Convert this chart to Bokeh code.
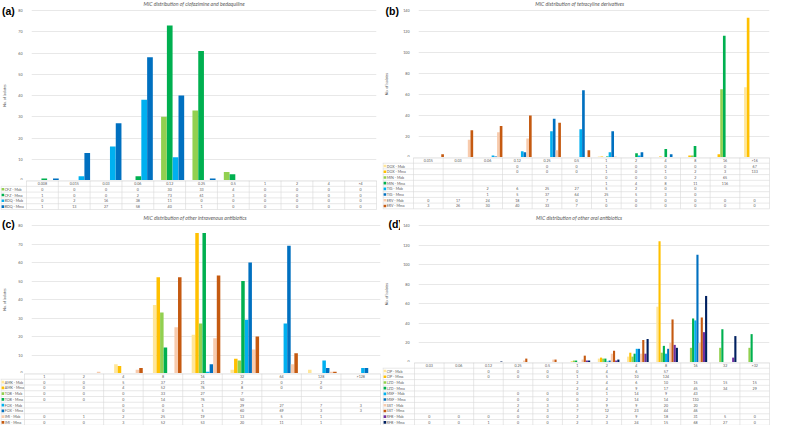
import math
from bokeh.plotting import figure
from bokeh.models import Range1d, FixedTicker, ColumnDataSource
from bokeh.layouts import row, column
from bokeh.embed import file_html
from bokeh.resources import INLINE
from bokeh.core.properties import value

FONT = "Lato"

# ---------------- Panel (a) ----------------
cats_a = ["0.008", "0.015", "0.03", "0.06", "0.12", "0.25", "0.5", "1", "2", "4", ">4"]
names_a = ["CFZ - Mab", "CFZ - Mma", "BDQ - Mab", "BDQ - Mma"]
cfz_mab = [0, 0, 0, 0, 30, 33, 4, 0, 0, 0, 0]
cfz_mma = [1, 0, 0, 2, 73, 61, 3, 0, 0, 0, 0]
bdq_mab = [0, 2, 16, 38, 11, 0, 0, 0, 0, 0, 0]
bdq_mma = [1, 13, 27, 58, 40, 1, 0, 0, 0, 0, 0]

# ---------------- Panel (b) ----------------
cats_b = ["0.015", "0.03", "0.06", "0.12", "0.25", "0.5", "1", "2", "4", "8", "16", ">16"]
names_b = ["DOX - Mab", "DOX - Mma", "MIN - Mab", "MIN - Mma",
           "TIG - Mab", "TIG - Mma", "ERV - Mab", "ERV - Mma"]
dox_mab = [None, None, None, 0, 0, 0, 1, 0, 0, 0, 0, 67]
dox_mma = [None, None, None, 0, 0, 0, 1, 0, 1, 2, 3, 133]
min_mab = [None, None, None, None, None, None, 0, 0, 0, 2, 65, None]
min_mma = [None, None, None, None, None, None, 1, 4, 8, 11, 116, None]
tig_mab = [None, None, 2, 6, 25, 27, 5, 2, 0, 0, None, None]
tig_mma = [None, None, 1, 5, 37, 64, 25, 5, 3, 0, None, None]
erv_mab = [0, 17, 24, 18, 7, 0, 1, 0, 0, 0, 0, 0]
erv_mma = [3, 26, 30, 40, 33, 7, 0, 0, 0, 0, 0, 0]

# ---------------- Panel (c) ----------------
cats_c = ["1", "2", "4", "8", "16", "32", "64", "128", ">128"]
names_c = ["AMK - Mab", "AMK - Mma", "TOB - Mab", "TOB - Mma",
           "FOX - Mab", "FOX - Mma", "IMI - Mab", "IMI - Mma"]
amk_mab = [0, 0, 5, 37, 21, 2, 0, 2, None]
amk_mma = [0, 0, 4, 52, 76, 8, 0, 0, None]
tob_mab = [0, 0, 0, 33, 27, 7, None, None, None]
tob_mma = [0, 0, 0, 14, 76, 50, None, None, None]
fox_mab = [None, None, 0, 0, 1, 29, 27, 7, 3]
fox_mma = [None, None, 0, 0, 5, 60, 69, 3, 3]
imi_mab = [0, 1, 2, 25, 19, 13, 5, 1, None]
imi_mma = [0, 0, 3, 52, 53, 20, 11, 1, None]

# ---------------- Panel (d) ----------------
cats_d = ["0.03", "0.06", "0.12", "0.25", "0.5", "1", "2", "4", "8", "16", "32", ">32"]
names_d = ["CIP - Mab", "CIP - Mma", "LZD - Mab", "LZD - Mma", "MXF - Mab",
           "MXF - Mma", "SXT - Mab", "SXT - Mma", "RFB - Mab", "RFB - Mma"]
cip_mab = [None, None, 0, 0, 0, 0, 4, 6, 57, None, None, None]
cip_mma = [None, None, 0, 0, 0, 1, 5, 10, 124, None, None, None]
lzd_mab = [None, None, None, None, None, 2, 4, 6, 10, 15, 15, 15]
lzd_mma = [None, None, None, None, None, 2, 4, 9, 17, 45, 34, 29]
mxf_mab = [None, None, None, 0, 0, 0, 1, 14, 9, 43, None, None]
mxf_mma = [None, None, None, 0, 0, 0, 2, 14, 14, 110, None, None]
sxt_mab = [None, None, None, 2, 3, 3, 9, 9, 20, 20, None, None]
sxt_mma = [None, None, None, 4, 3, 7, 12, 23, 44, 46, None, None]
rfb_mab = [0, 0, 0, 0, 0, 2, 2, 9, 18, 31, 5, 0]
rfb_mma = [0, 0, 1, 0, 0, 2, 3, 24, 15, 68, 27, 0]

LY, YE = "#FFE699", "#FFC000"
LG, GR = "#92D050", "#00B050"
LB, BL = "#00B0F0", "#0070C0"
LO, OR = "#F8CBAD", "#C55A11"
PU, NV = "#7030A0", "#002060"

TXT = "#595959"
GRID = "#D9D9D9"
SMALL = "3.6px"


def make_panel(letter, title, cats, names, colors, series, ymax, ystep,
               pw, chart_h, table_h, fl, fr, ft, row_h,
               nw, letter_x, letter_y, title_y):
    n = len(cats)
    ns = len(series)
    cw = pw - nw

    # ---- narrow left strip: panel letter + y axis title ----
    s = figure(width=nw, height=chart_h, x_range=Range1d(0, nw),
               y_range=Range1d(chart_h, 0), output_backend="svg",
               toolbar_location=None, x_axis_location=None,
               y_axis_location=None, min_border=0, min_border_left=0,
               min_border_right=0, min_border_top=0, min_border_bottom=0)
    s.outline_line_color = None
    s.grid.visible = False
    s.text(x=[letter_x], y=[letter_y], text=[letter], text_align="left",
           text_baseline="middle", text_font_size="10.5px",
           text_font_style="bold", text_color="#000000",
           text_font=value("Liberation Sans"))
    s.text(x=[3.5], y=[(ft + chart_h) / 2], text=["No. of isolates"],
           angle=math.pi / 2, text_align="center", text_baseline="middle",
           text_font_size=SMALL, text_color=TXT, text_font=value(FONT))

    # ---- chart ----
    ppy = (chart_h - ft) / ymax
    ytop = ymax + ft / ppy
    p = figure(width=cw, height=chart_h, x_range=Range1d(-0.5, n - 0.5),
               y_range=Range1d(0, ytop), output_backend="svg",
               toolbar_location=None, x_axis_location=None,
               min_border_left=fl - nw, min_border_right=fr,
               min_border_top=0, min_border_bottom=0)
    p.outline_line_color = None
    p.xgrid.visible = False
    ticks = list(range(0, ymax + 1, ystep))
    p.yaxis.ticker = FixedTicker(ticks=ticks)
    p.ygrid.ticker = FixedTicker(ticks=ticks)
    p.ygrid.grid_line_color = GRID
    p.ygrid.grid_line_width = 0.6
    ax = p.yaxis[0]
    ax.axis_line_color = None
    ax.major_tick_line_color = None
    ax.minor_tick_line_color = None
    ax.major_label_text_font_size = SMALL
    ax.major_label_text_color = TXT
    ax.major_label_text_font = FONT
    ax.major_label_standoff = 3

    group = 0.74
    bw = group / ns
    for i, (vals, col) in enumerate(zip(series, colors)):
        off = (i - (ns - 1) / 2) * bw
        src = ColumnDataSource(dict(x=[k + off for k in range(n)],
                                    top=[v if v is not None else 0 for v in vals]))
        p.vbar(x="x", top="top", width=bw * 0.98, source=src,
               fill_color=col, line_color=None)

    ppu = (pw - fl - fr) / n
    tx = -0.5 + (pw / 2 - fl) / ppu
    p.text(x=[tx], y=[ytop - title_y / ppy], text=[title], text_align="center",
           text_baseline="middle", text_font_size="5.2px",
           text_font_style="italic", text_color=TXT, text_font=value(FONT))

    # ---- table ----
    xs = -0.5 - fl / ppu
    xe = n - 0.5 + fr / ppu
    nrows = len(names) + 1
    t = figure(width=pw, height=table_h, x_range=Range1d(xs, xe),
               y_range=Range1d(table_h / row_h, 0), output_backend="svg",
               toolbar_location=None, x_axis_location=None,
               y_axis_location=None, min_border=0, min_border_left=0,
               min_border_right=0, min_border_top=0, min_border_bottom=0)
    t.outline_line_color = None
    t.grid.visible = False

    vx = [k - 0.5 for k in range(n + 1)]
    t.segment(x0=vx, y0=[0] * len(vx), x1=vx, y1=[nrows] * len(vx),
              line_color=GRID, line_width=0.6)
    t.segment(x0=[xs + 0.6 / ppu], y0=[1], x1=[xs + 0.6 / ppu], y1=[nrows],
              line_color=GRID, line_width=0.6)
    hy = list(range(1, nrows + 1))
    t.segment(x0=[xs] * len(hy), y0=hy, x1=[n - 0.5] * len(hy), y1=hy,
              line_color=GRID, line_width=0.6)
    t.segment(x0=[-0.5], y0=[0.05], x1=[n - 0.5], y1=[0.05],
              line_color="#BFBFBF", line_width=0.8)

    t.text(x=list(range(n)), y=[0.55] * n, text=cats, text_align="center",
           text_baseline="middle", text_font_size=SMALL, text_color=TXT,
           text_font=value(FONT))
    for r, (nm, col, vals) in enumerate(zip(names, colors, series)):
        yy = r + 1.5
        t.scatter(x=[xs + 2.4 / ppu], y=[yy], marker="square", size=2.6,
                  fill_color=col, line_color=None)
        t.text(x=[xs + 4.2 / ppu], y=[yy], text=[nm], text_align="left",
               text_baseline="middle", text_font_size=SMALL, text_color=TXT,
               text_font=value(FONT))
        ks = [k for k in range(n) if vals[k] is not None]
        t.text(x=ks, y=[yy] * len(ks), text=[str(vals[k]) for k in ks],
               text_align="center", text_baseline="middle",
               text_font_size=SMALL, text_color=TXT, text_font=value(FONT))
    return column(row(s, p, spacing=0), t, spacing=0)


pa = make_panel("(a)", "MIC distribution of clofazimine and bedaquiline",
                cats_a, names_a, [LG, GR, LB, BL],
                [cfz_mab, cfz_mma, bdq_mab, bdq_mma], 80, 10,
                382, 180, 32, 26, 6, 10, 5.8, 15, 1.5, 10, 3)
pb = make_panel("(b)", "MIC distribution of tetracyline derivatives",
                cats_b, names_b, [LY, YE, LG, GR, LB, BL, LO, OR],
                [dox_mab, dox_mma, min_mab, min_mma, tig_mab, tig_mma, erv_mab, erv_mma],
                140, 20, 389, 157, 55, 31, 2, 10, 5.7, 18, 3, 10, 3)
pc = make_panel("(c)", "MIC distribution of other intravenous antibiotics",
                cats_c, names_c, [LY, YE, LG, GR, LB, BL, LO, OR],
                [amk_mab, amk_mma, tob_mab, tob_mma, fox_mab, fox_mma, imi_mab, imi_mma],
                80, 10, 382, 161, 52, 24, 2, 13, 5.75, 15, 1.5, 11, 5.5)
pd_ = make_panel("(d)", "MIC distribution of other oral antibiotics",
                 cats_d, names_d, [LY, YE, LG, GR, LB, BL, LO, OR, PU, NV],
                 [cip_mab, cip_mma, lzd_mab, lzd_mma, mxf_mab, mxf_mma,
                  sxt_mab, sxt_mma, rfb_mab, rfb_mma],
                 140, 20, 389, 150, 63, 32, 2, 13, 5.7, 18, 6, 11, 5.5)

layout = column(row(pa, pb, spacing=0), row(pc, pd_, spacing=0), spacing=0)
open("out.html", "w").write(file_html(layout, INLINE))
